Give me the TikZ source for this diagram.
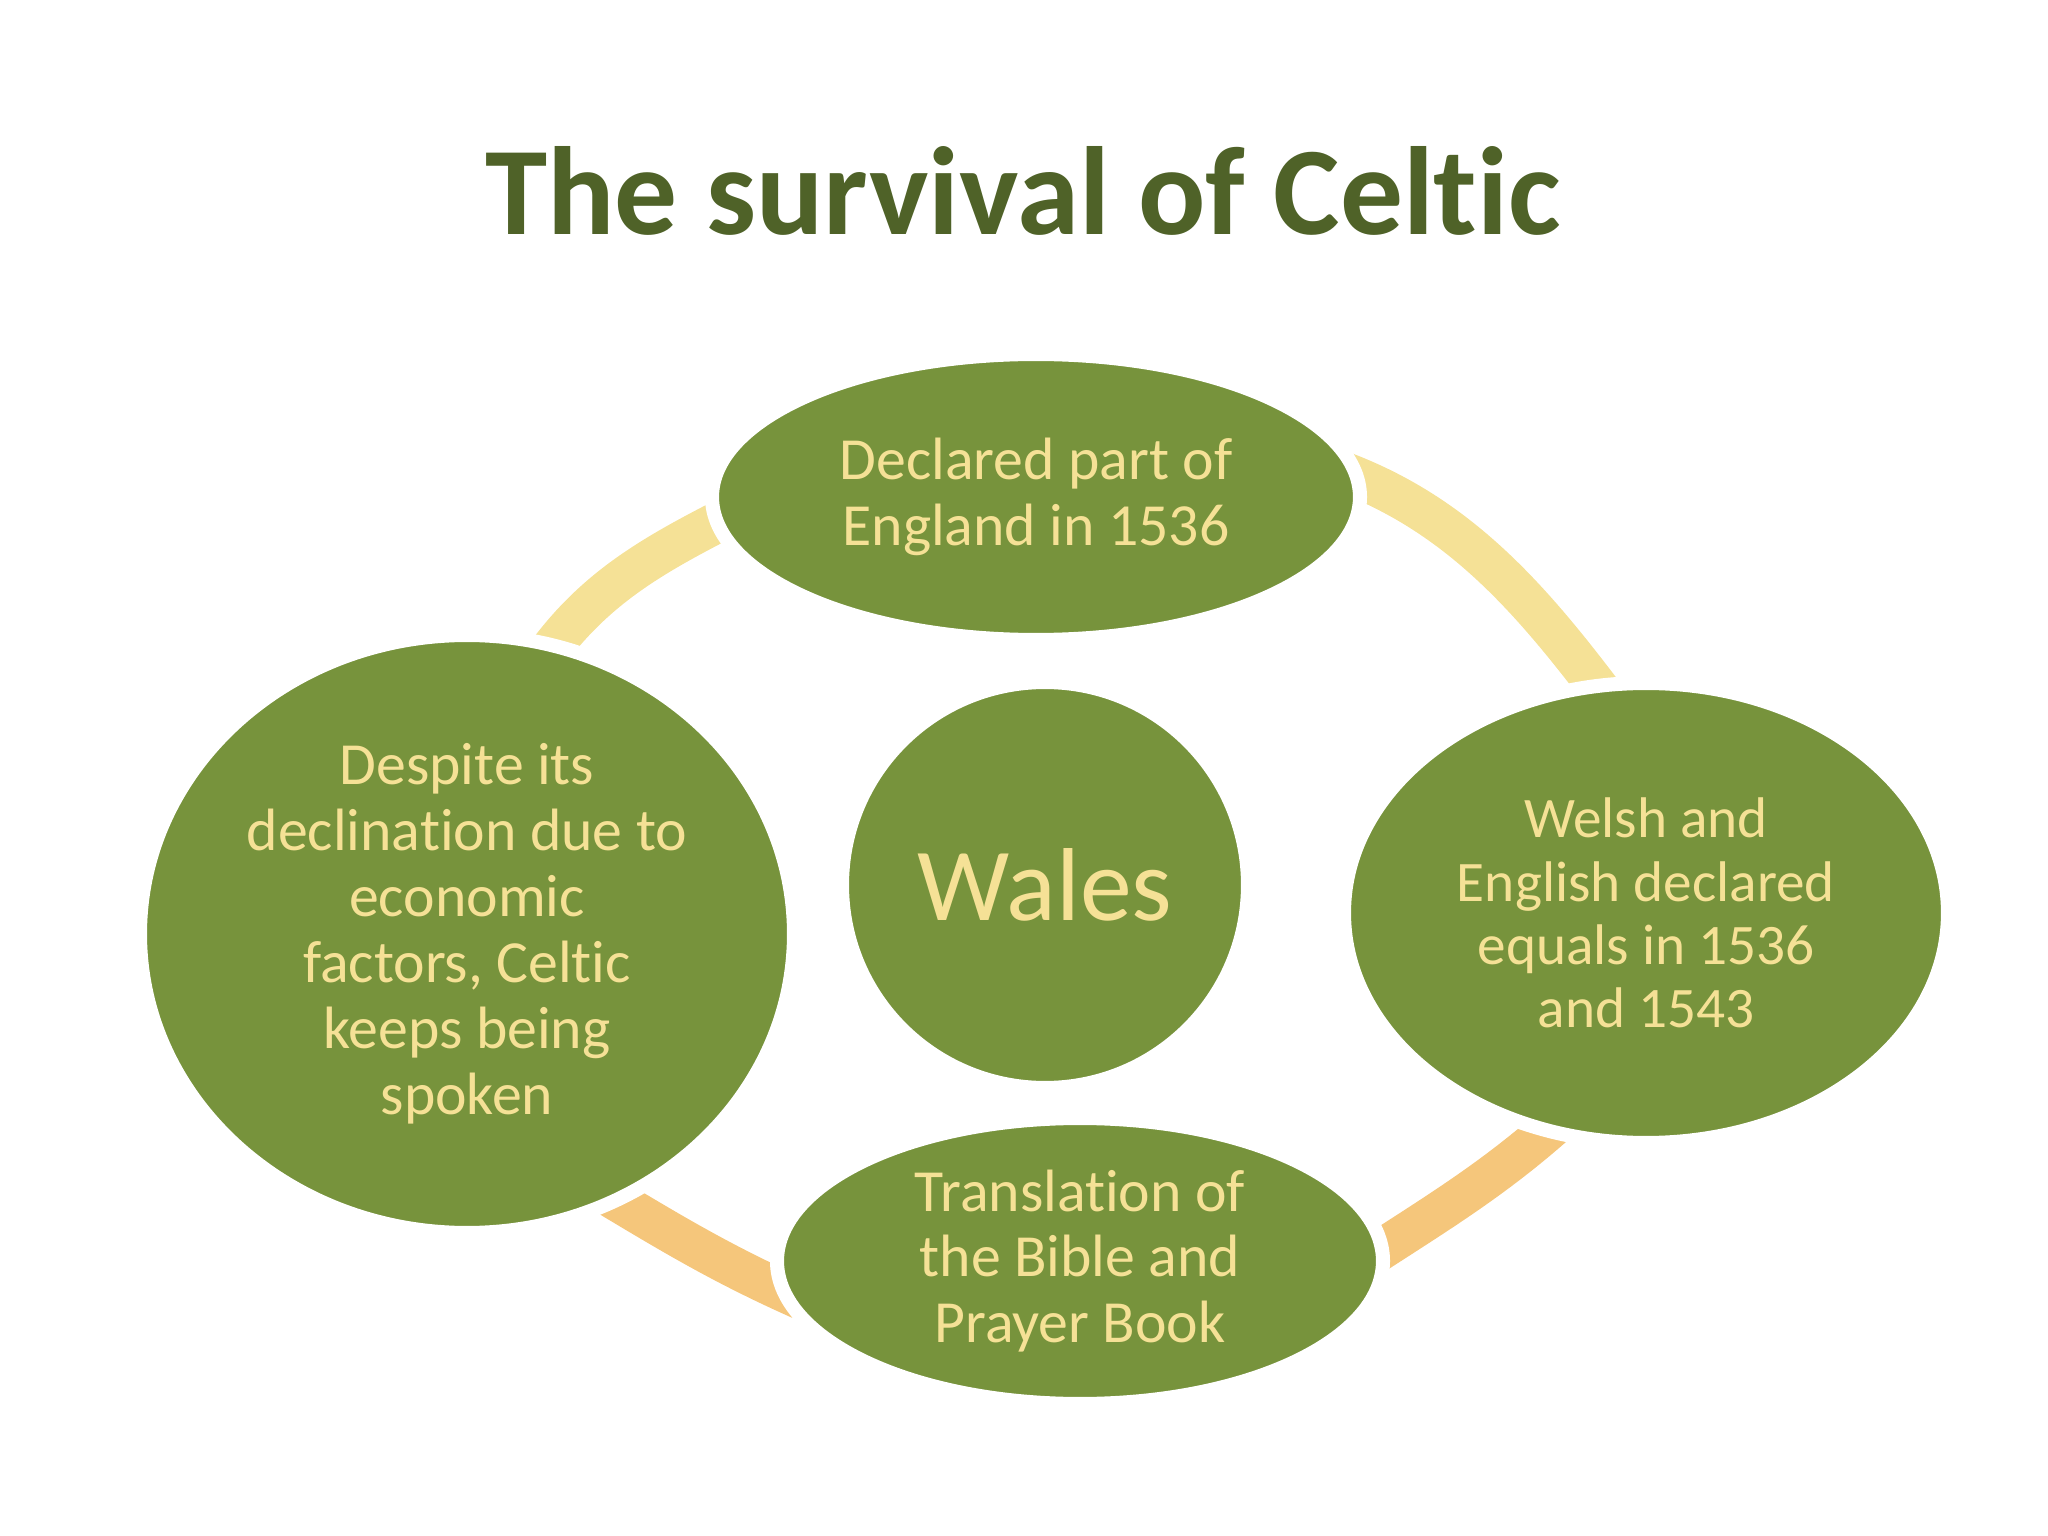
\documentclass[tikz,border=0pt]{standalone}
\usepackage{fontspec}
\setmainfont{Carlito}[Ligatures=NoCommon]
\usepackage{tikz}
\usetikzlibrary{shapes.geometric,backgrounds}
\definecolor{olive}{HTML}{77933C}
\definecolor{sand}{HTML}{F5E196}
\definecolor{apricot}{HTML}{F5C67B}
\definecolor{darkolive}{HTML}{4F6228}

\begin{document}
\begin{tikzpicture}[
  topic/.style={ellipse,fill=olive,draw=white,line width=4pt,inner sep=0pt,align=center,text=sand,font=\fontsize{17}{18.75}\selectfont},
  hub/.style={topic,circle,minimum size=4.06cm,font=\fontsize{29.5}{36}\selectfont},
  heading/.style={text=darkolive,font=\fontsize{35.7}{42}\selectfont\bfseries},
  ring/.style={line width=0.41cm,looseness=0.85,shorten <=-8pt,shorten >=-8pt},
  upper/.style={ring,draw=sand},
  lower/.style={ring,draw=apricot}
  ]
  \useasboundingbox (0,0) rectangle (20.48,-15.36);

  \node[heading] (title) at (10.23,-1.91) {The survival of Celtic};

  \node[hub] (wales) at (10.45,-8.85) {Wales};
  \node[topic,minimum width=6.48cm,minimum height=2.86cm] (england) at (10.36,-4.97) {Declared part of\\England in 1536};
  \node[topic,minimum width=6.04cm,minimum height=4.60cm,font=\fontsize{16.3}{18}\selectfont] (equals) at (16.46,-9.13) {Welsh and\\English declared\\equals in 1536\\and 1543};
  \node[topic,minimum width=6.06cm,minimum height=2.86cm] (bible) at (10.80,-12.61) {Translation of\\the Bible and\\Prayer Book};
  \node[topic,minimum width=6.54cm,minimum height=5.98cm] (spoken) at (4.67,-9.34) {Despite its\\declination due to\\economic\\factors, Celtic\\keeps being\\spoken};

  % the ring runs under the nodes
  \begin{scope}[on background layer]
    \draw[upper] (spoken.73) to[out=55,in=207] (england.185);
    \draw[upper] (england.3) to[out=-20,in=127] (equals.103);
    \draw[lower] (equals.245) to[out=222,in=33] (bible.3);
    \draw[lower] (bible.185) to[out=156,in=-31] (spoken.300);
  \end{scope}
\end{tikzpicture}
\end{document}
